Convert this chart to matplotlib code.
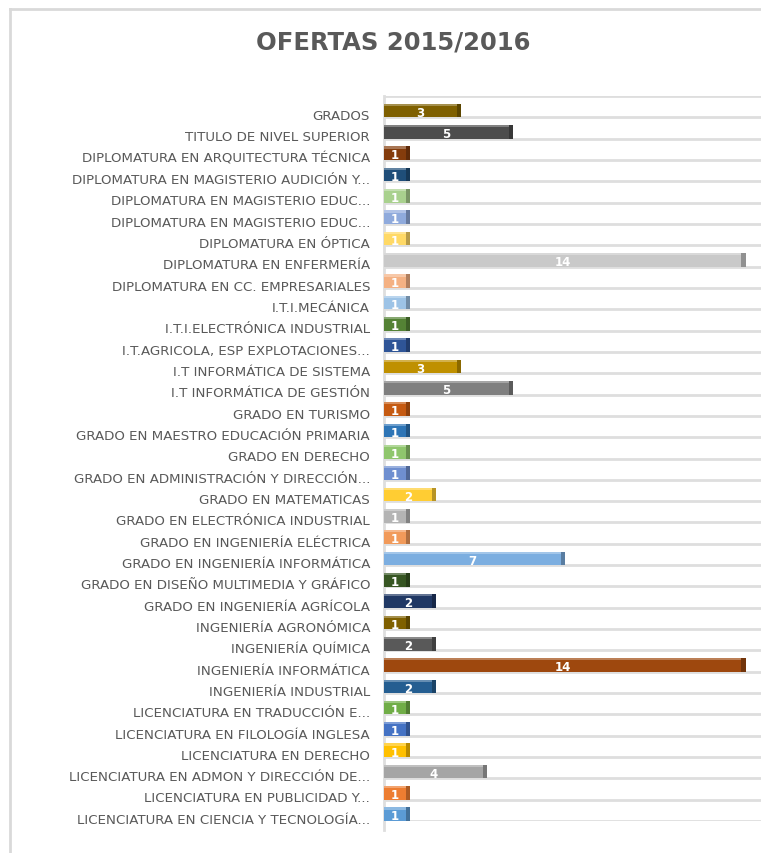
import matplotlib
matplotlib.use("Agg")
import matplotlib.pyplot as plt
from matplotlib.lines import Line2D
from matplotlib.colors import to_rgb

# ----------------------------- data ----------------------------- #
carreras = [
    "GRADOS",
    "TITULO DE NIVEL SUPERIOR",
    "DIPLOMATURA EN ARQUITECTURA TÉCNICA",
    "DIPLOMATURA EN MAGISTERIO AUDICIÓN Y...",
    "DIPLOMATURA EN MAGISTERIO EDUC...",
    "DIPLOMATURA EN MAGISTERIO EDUC...",
    "DIPLOMATURA EN ÓPTICA",
    "DIPLOMATURA EN ENFERMERÍA",
    "DIPLOMATURA EN CC. EMPRESARIALES",
    "I.T.I.MECÁNICA",
    "I.T.I.ELECTRÓNICA INDUSTRIAL",
    "I.T.AGRICOLA, ESP EXPLOTACIONES...",
    "I.T INFORMÁTICA DE SISTEMA",
    "I.T INFORMÁTICA DE GESTIÓN",
    "GRADO EN TURISMO",
    "GRADO EN MAESTRO EDUCACIÓN PRIMARIA",
    "GRADO EN DERECHO",
    "GRADO EN ADMINISTRACIÓN Y DIRECCIÓN...",
    "GRADO EN MATEMATICAS",
    "GRADO EN ELECTRÓNICA INDUSTRIAL",
    "GRADO EN INGENIERÍA ELÉCTRICA",
    "GRADO EN INGENIERÍA INFORMÁTICA",
    "GRADO EN DISEÑO MULTIMEDIA Y GRÁFICO",
    "GRADO EN INGENIERÍA AGRÍCOLA",
    "INGENIERÍA AGRONÓMICA",
    "INGENIERÍA QUÍMICA",
    "INGENIERÍA INFORMÁTICA",
    "INGENIERÍA INDUSTRIAL",
    "LICENCIATURA EN TRADUCCIÓN E...",
    "LICENCIATURA EN FILOLOGÍA INGLESA",
    "LICENCIATURA EN DERECHO",
    "LICENCIATURA EN ADMON Y DIRECCIÓN DE...",
    "LICENCIATURA EN PUBLICIDAD Y...",
    "LICENCIATURA EN CIENCIA Y TECNOLOGÍA...",
]
ofertas = [3, 5, 1, 1, 1, 1, 1, 14, 1, 1, 1, 1, 3, 5, 1, 1, 1, 1, 2, 1,
           1, 7, 1, 2, 1, 2, 14, 2, 1, 1, 1, 4, 1, 1]
colores = [
    "#7f6000", "#4d4d4d", "#843c0c", "#1f4e79", "#a9d18e", "#8faadc",
    "#ffd966", "#c9c9c9", "#f4b183", "#9dc3e6", "#548235", "#2f5597",
    "#bf9000", "#7f7f7f", "#c55a11", "#2e75b6", "#8fc66d", "#6f8fd0",
    "#ffcd33", "#b4b4b4", "#f19a5a", "#7caee0", "#375623", "#203864",
    "#7f6000", "#595959", "#9e480e", "#255e91", "#70ad47", "#4472c4",
    "#ffc000", "#a5a5a5", "#ed7d31", "#5b9bd5",
]


def shade(c, f):
    r, g, b = to_rgb(c)
    if f < 1:
        return (r * f, g * f, b * f)
    f = f - 1
    return (r + (1 - r) * f, g + (1 - g) * f, b + (1 - b) * f)


# ----------------------------- figure ----------------------------- #
W, H = 761, 854
fig = plt.figure(figsize=(W / 100, H / 100), dpi=100)
fig.patch.set_facecolor("white")

# chart border (cut at the right and bottom)
fig.add_artist(Line2D([10 / W, 10 / W], [1 - 10 / H, -0.1], color="#d9d9d9",
                      lw=2, transform=fig.transFigure))
fig.add_artist(Line2D([10 / W, 1.1], [1 - 10 / H, 1 - 10 / H], color="#d9d9d9",
                      lw=2, transform=fig.transFigure))

fig.text(393 / W, 1 - 43 / H, "OFERTAS 2015/2016", ha="center", va="center",
         fontsize=17.5, fontweight="bold", color="#595959")

ax = fig.add_axes([384 / W, 1 - 822 / H, (W - 384) / W, (822 - 97) / H])
n = len(carreras)
ax.set_xlim(0, 14.6)
ax.set_ylim(n - 0.5, -0.5)
for s in ax.spines.values():
    s.set_visible(False)

# gridlines between categories
for k in range(n + 1):
    ax.axhline(k - 0.5, color="#dedede", lw=2, zorder=0)
ax.plot([0, 0], [n - 0.1, -0.5], color="#dedede", lw=2, zorder=0,
        clip_on=False)

ys = [k + 0.185 for k in range(n)]
hb = 0.64
side = 0.16
ax.barh(ys, ofertas, height=hb, color=colores, zorder=2)
# darker right face and lighter top face for the 3D look
ax.barh(ys, [side] * n, left=[v - side for v in ofertas], height=hb,
        color=[shade(c, 0.72) for c in colores], zorder=3)
ax.barh([y - hb / 2 + 0.05 for y in ys], [v - side for v in ofertas],
        height=0.1, color=[shade(c, 1.3) for c in colores], zorder=3)

for y, v in zip(ys, ofertas):
    ax.text((v - side) / 2, y + 0.08, str(v), ha="center", va="center",
            fontsize=8.5, fontweight="bold", color="white", zorder=4)

ax.set_xticks([])
ax.set_yticks([k + 0.35 for k in range(n)])
ax.set_yticklabels(carreras, fontsize=9.6, color="#595959")
ax.tick_params(axis="y", length=0, pad=10)

fig.savefig("out.png", dpi=100)
